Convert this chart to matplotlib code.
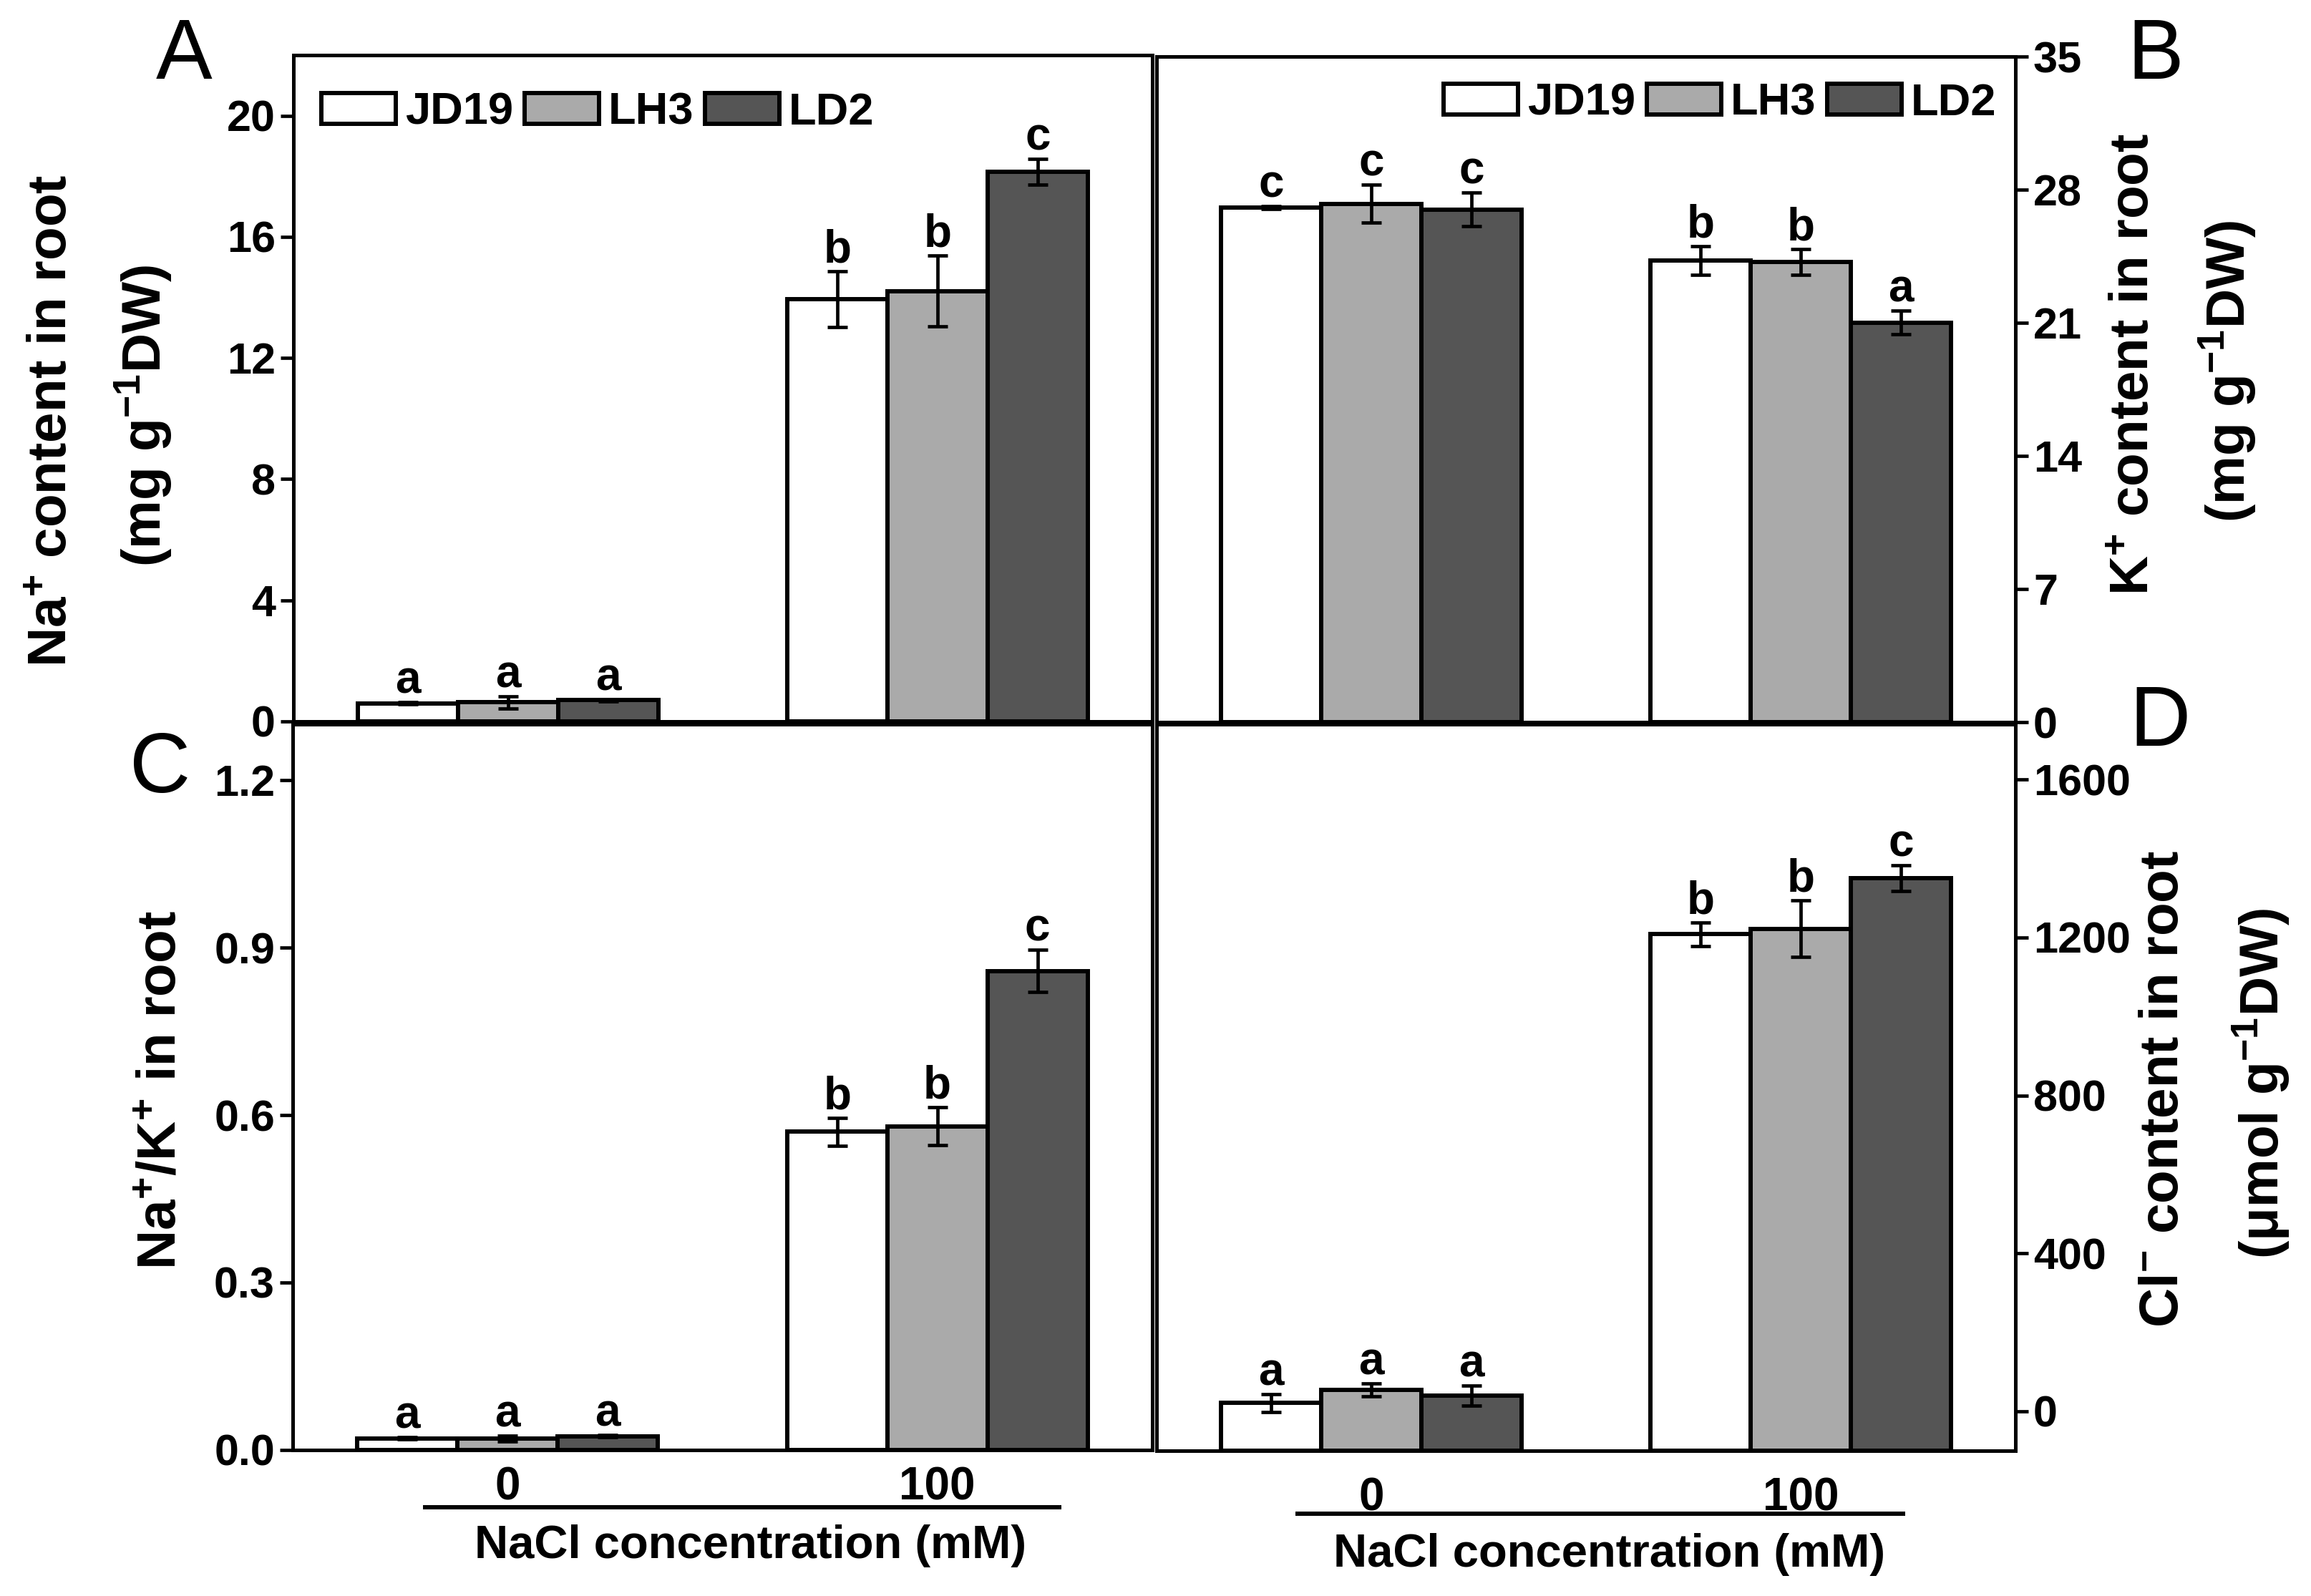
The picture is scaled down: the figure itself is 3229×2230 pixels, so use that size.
import numpy as np
import matplotlib
matplotlib.use("Agg")
import matplotlib.pyplot as plt
from matplotlib import transforms

# ---------------- data ----------------
groups = ["0", "100"]
cultivars = ["JD19", "LH3", "LD2"]
colors = ["#ffffff", "#aaaaaa", "#555555"]

# A: Na+ content in root (mg g-1 DW)
na_jd19 = [0.60, 13.94]
na_lh3 = [0.63, 14.21]
na_ld2 = [0.70, 18.15]
na_jd19_err = [0.04, 0.93]
na_lh3_err = [0.20, 1.17]
na_ld2_err = [0.04, 0.43]
na_jd19_let = ["a", "b"]
na_lh3_let = ["a", "b"]
na_ld2_let = ["a", "c"]

# B: K+ content in root (mg g-1 DW)
k_jd19 = [27.06, 24.29]
k_lh3 = [27.26, 24.19]
k_ld2 = [26.96, 21.01]
k_jd19_err = [0.08, 0.75]
k_lh3_err = [1.00, 0.68]
k_ld2_err = [0.88, 0.63]
k_jd19_let = ["c", "b"]
k_lh3_let = ["c", "b"]
k_ld2_let = ["c", "a"]

# C: Na+/K+ in root
r_jd19 = [0.021, 0.570]
r_lh3 = [0.021, 0.580]
r_ld2 = [0.025, 0.858]
r_jd19_err = [0.002, 0.025]
r_lh3_err = [0.005, 0.034]
r_ld2_err = [0.002, 0.038]
r_jd19_let = ["a", "b"]
r_lh3_let = ["a", "b"]
r_ld2_let = ["a", "c"]

# D: Cl- content in root (umol g-1 DW)
cl_jd19 = [21, 1208]
cl_lh3 = [54, 1222]
cl_ld2 = [40, 1350]
cl_jd19_err = [23, 30]
cl_lh3_err = [16, 72]
cl_ld2_err = [25, 33]
cl_jd19_let = ["a", "b"]
cl_lh3_let = ["a", "b"]
cl_ld2_let = ["a", "c"]

# ---------------- style ----------------
FONT = "Liberation Sans"
plt.rcParams["font.family"] = [FONT, "DejaVu Sans"]
plt.rcParams["font.weight"] = "bold"
plt.rcParams["mathtext.fontset"] = "custom"
plt.rcParams["mathtext.rm"] = FONT + ":bold"
plt.rcParams["mathtext.bf"] = FONT + ":bold"
plt.rcParams["mathtext.it"] = FONT + ":bold"
plt.rcParams["mathtext.default"] = "rm"

W, H = 3230, 2230
DPI = 100
fig = plt.figure(figsize=(W / DPI, H / DPI), dpi=DPI)


def px_rect(l, r, t, b):
    return [l / W, 1 - b / H, (r - l) / W, (b - t) / H]


axA = fig.add_axes(px_rect(410, 1610, 77, 1008))
axB = fig.add_axes(px_rect(1616, 2816, 79, 1009))
axC = fig.add_axes(px_rect(409, 1610, 1012, 2026))
axD = fig.add_axes(px_rect(1616, 2816, 1012, 2027))

BW = 0.233
xg = np.arange(1, len(groups) + 1)
offsets = [-BW, 0, BW]
SPINE_LW = 3.6
TICK_FS = 44
LET_FS = 46


def draw_panel(ax, series, errs, lets, ylim, yticks, ytlabels, right=False):
    y0 = ylim[0]
    handles = []
    for i, (vals, e, lt) in enumerate(zip(series, errs, lets)):
        x = xg + offsets[i]
        vals = np.asarray(vals, float)
        e = np.asarray(e, float)
        h = ax.bar(x, vals - y0, bottom=y0, width=BW, color=colors[i],
                   edgecolor="black", linewidth=4.3, label=cultivars[i], zorder=2)
        handles.append(h)
        ax.errorbar(x, vals, yerr=e, fmt="none", ecolor="black",
                    elinewidth=3.4, capsize=10, capthick=3.4, zorder=3)
        for xi, v, ei, l in zip(x, vals, e, lt):
            ax.annotate(l, (xi, v + ei), xytext=(0, 9), textcoords="offset points",
                        ha="center", va="baseline", fontsize=LET_FS, fontweight="bold")
    ax.set_xlim(0.5, 2.5)
    ax.set_ylim(*ylim)
    ax.set_yticks(yticks)
    ax.set_yticklabels(ytlabels)
    for s in ax.spines.values():
        s.set_linewidth(SPINE_LW)
    ax.tick_params(axis="y", direction="out", length=13, width=3.4,
                   labelsize=TICK_FS, pad=5)
    if right:
        ax.yaxis.tick_right()
        ax.yaxis.set_label_position("right")
    return handles


hA = draw_panel(axA, [na_jd19, na_lh3, na_ld2], [na_jd19_err, na_lh3_err, na_ld2_err],
                [na_jd19_let, na_lh3_let, na_ld2_let], (0, 22),
                [0, 4, 8, 12, 16, 20], ["0", "4", "8", "12", "16", "20"])
hB = draw_panel(axB, [k_jd19, k_lh3, k_ld2], [k_jd19_err, k_lh3_err, k_ld2_err],
                [k_jd19_let, k_lh3_let, k_ld2_let], (0, 35),
                [0, 7, 14, 21, 28, 35], ["0", "7", "14", "21", "28", "35"], right=True)
draw_panel(axC, [r_jd19, r_lh3, r_ld2], [r_jd19_err, r_lh3_err, r_ld2_err],
           [r_jd19_let, r_lh3_let, r_ld2_let], (0, 1.3),
           [0, 0.3, 0.6, 0.9, 1.2], ["0.0", "0.3", "0.6", "0.9", "1.2"])
draw_panel(axD, [cl_jd19, cl_lh3, cl_ld2], [cl_jd19_err, cl_lh3_err, cl_ld2_err],
           [cl_jd19_let, cl_lh3_let, cl_ld2_let], (-100, 1740),
           [0, 400, 800, 1200, 1600], ["0", "400", "800", "1200", "1600"], right=True)

# x axes
for ax in (axA, axB):
    ax.set_xticks([])
axC.set_xticks(xg)
axC.set_xticklabels(groups)
axC.tick_params(axis="x", length=0, labelsize=46, pad=16)
axD.set_xticks(xg)
axD.set_xticklabels(groups)
axD.tick_params(axis="x", length=0, labelsize=46, pad=26)

# group underline and x titles
for ax, x0, x1, yl, yt in ((axC, 0.803, 2.288, -0.079, -0.132),
                           (axD, 0.824, 2.244, -0.087, -0.143)):
    tr = transforms.blended_transform_factory(ax.transData, ax.transAxes)
    ax.plot([x0, x1], [yl, yl], color="black", lw=4.3, transform=tr,
            clip_on=False, solid_capstyle="butt")
    ax.text((x0 + x1) / 2 + 0.02, yt, "NaCl concentration (mM)", transform=tr,
            ha="center", va="center", fontsize=47, fontweight="bold")

# legends
leg_kw = dict(ncol=3, frameon=False, fontsize=45.5, handlelength=1.65, handleheight=0.68,
              handletextpad=0.2, columnspacing=0.25, borderpad=0, borderaxespad=0)
axA.legend(handles=hA, loc="center left", bbox_to_anchor=(0.0325, 0.914), **leg_kw)
axB.legend(handles=hB, loc="center right", bbox_to_anchor=(0.978, 0.930), **leg_kw)


def ftext(x, y, s, **kw):
    fig.text(x / W, 1 - y / H, s, ha="center", va="center", **kw)


YL = 55
ftext(74, 588, r"Na$^{+}$ content in root", rotation=90, fontsize=YL, fontweight="bold")
ftext(200, 581, r"(mg g$^{-1}$DW)", rotation=90, fontsize=YL, fontweight="bold")
ftext(2983, 509, r"K$^{+}$ content in root", rotation=90, fontsize=YL, fontweight="bold")
ftext(3112, 519, r"(mg g$^{-1}$DW)", rotation=90, fontsize=YL, fontweight="bold")
ftext(226, 1523, r"Na$^{+}$/K$^{+}$ in root", rotation=90, fontsize=YL, fontweight="bold")
ftext(3024, 1521, r"Cl$^{-}$ content in root", rotation=90, fontsize=YL, fontweight="bold")
ftext(3159, 1514, r"(μmol g$^{-1}$DW)", rotation=90, fontsize=YL, fontweight="bold")

# panel letters
for s, x, y in (("A", 257, 80), ("B", 3012, 80), ("C", 224, 1076), ("D", 3018, 1011)):
    ftext(x, y, s, fontsize=85, fontweight="normal")

fig.savefig("out.png", dpi=DPI, facecolor="white")
